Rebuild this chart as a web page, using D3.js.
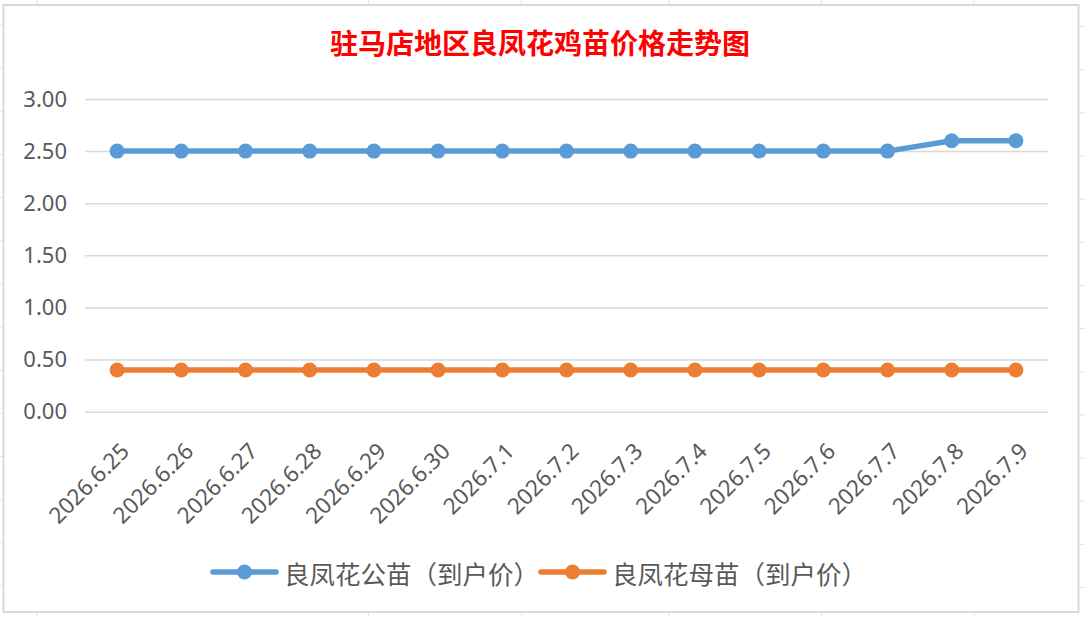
<!DOCTYPE html>
<html>
<head>
<meta charset="utf-8">
<script src="https://cdn.jsdelivr.net/npm/d3@7/dist/d3.min.js"></script>
<style>
  html, body { margin: 0; padding: 0; background: #ffffff; }
  svg { display: block; }
</style>
</head>
<body>
<svg id="chart" width="1085" height="617"></svg>
<script>
// ---- data ----
const categories = ['2026.6.25','2026.6.26','2026.6.27','2026.6.28','2026.6.29','2026.6.30',
  '2026.7.1','2026.7.2','2026.7.3','2026.7.4','2026.7.5','2026.7.6','2026.7.7','2026.7.8','2026.7.9'];
const maleValues   = [2.5,2.5,2.5,2.5,2.5,2.5,2.5,2.5,2.5,2.5,2.5,2.5,2.5,2.6,2.6];
const femaleValues = [0.4,0.4,0.4,0.4,0.4,0.4,0.4,0.4,0.4,0.4,0.4,0.4,0.4,0.4,0.4];
const seriesNames  = ['良凤花公苗（到户价）', '良凤花母苗（到户价）'];
const yTicks       = [0, 0.5, 1, 1.5, 2, 2.5, 3];
const titleText    = '驻马店地区良凤花鸡苗价格走势图';

// ---- layout ----
const W = 1085, H = 617;
const plot = { left: 85, right: 1048, top: 99, bottom: 411.7 };
const colors = ['#5B9BD5', '#ED7D31'];
const textColor = '#595959';
const gridColor = '#D9D9D9';
const numFont = '"Noto Sans", "Open Sans", sans-serif';
const cjkFont = '"Noto Sans CJK SC", "Noto Sans", sans-serif';

const svg = d3.select('#chart');
svg.append('rect').attr('width', W).attr('height', H).attr('fill', '#fff');

// spreadsheet cell lines peeking around the chart
const sheetCols = [37, 368.5, 521.5, 669, 821.5, 974];
const sheetRows = d3.range(14).map(k => 25 + k * 43.15);
const deco = svg.append('g').attr('stroke', '#E3E3E3').attr('stroke-width', 1);
sheetCols.forEach(x => {
  deco.append('line').attr('x1', x).attr('x2', x).attr('y1', 0).attr('y2', 5);
  deco.append('line').attr('x1', x).attr('x2', x).attr('y1', 612).attr('y2', H);
});
sheetRows.forEach(y => {
  deco.append('line').attr('x1', 0).attr('x2', 3).attr('y1', y).attr('y2', y);
  deco.append('line').attr('x1', 1079).attr('x2', W).attr('y1', y + 1.5).attr('y2', y + 1.5);
});

// chart border
svg.append('rect')
  .attr('x', 3.5).attr('y', 5).attr('width', 1075).attr('height', 607)
  .attr('fill', '#fff').attr('stroke', '#D9D9D9').attr('stroke-width', 2);

// ---- scales ----
const x = d3.scalePoint().domain(categories).range([plot.left, plot.right]).padding(0.5);
const y = d3.scaleLinear().domain([0, 3]).range([plot.bottom, plot.top]);

// grid + y labels
const yAxis = d3.axisLeft(y).tickValues(yTicks).tickFormat(d3.format('.2f'))
  .tickSize(-(plot.right - plot.left)).tickPadding(18);
const gy = svg.append('g').attr('transform', `translate(${plot.left},0)`).call(yAxis);
gy.select('.domain').remove();
gy.selectAll('.tick line').attr('stroke', gridColor).attr('stroke-width', 1.5);
gy.selectAll('.tick text')
  .attr('fill', textColor).style('font-family', numFont).style('font-size', '22px');

// x labels
const xAxis = d3.axisBottom(x).tickSize(0).tickPadding(0);
const gx = svg.append('g').attr('transform', `translate(0,${plot.bottom})`).call(xAxis);
gx.select('.domain').remove();
gx.selectAll('.tick text')
  .attr('fill', textColor).style('font-family', numFont).style('font-size', '22.5px')
  .attr('text-anchor', 'end').attr('dy', null).attr('y', null)
  .attr('dominant-baseline', 'central')
  .attr('transform', 'translate(7,35) rotate(-45)');

// ---- series ----
const series = [maleValues, femaleValues];
const line = d3.line().x((d, i) => x(categories[i])).y(d => y(d));
series.forEach((vals, si) => {
  svg.append('path').datum(vals)
    .attr('fill', 'none').attr('stroke', colors[si]).attr('stroke-width', 5.5)
    .attr('stroke-linejoin', 'round').attr('stroke-linecap', 'round')
    .attr('d', line);
  svg.append('g').selectAll('circle').data(vals).join('circle')
    .attr('cx', (d, i) => x(categories[i])).attr('cy', d => y(d))
    .attr('r', 7.5).attr('fill', colors[si]);
});

// ---- title ----
svg.append('text')
  .attr('x', 540).attr('y', 42)
  .attr('text-anchor', 'middle').attr('dominant-baseline', 'central')
  .attr('fill', '#FF0000').style('font-family', cjkFont)
  .style('font-size', '28px').style('font-weight', 'bold')
  .text(titleText);

// ---- legend ----
const legendX = [213, 541];
const legendY = 572;
seriesNames.forEach((name, i) => {
  const g = svg.append('g').attr('transform', `translate(${legendX[i]},${legendY})`);
  g.append('line').attr('x1', 0).attr('x2', 63).attr('y1', 0).attr('y2', 0)
    .attr('stroke', colors[i]).attr('stroke-width', 5.5).attr('stroke-linecap', 'round');
  g.append('circle').attr('cx', 31.5).attr('cy', 0).attr('r', 7.5).attr('fill', colors[i]);
  g.append('text').attr('x', 71).attr('y', 0)
    .attr('dominant-baseline', 'central')
    .attr('fill', textColor).style('font-family', cjkFont).style('font-size', '25.5px')
    .text(name);
});
</script>
</body>
</html>
